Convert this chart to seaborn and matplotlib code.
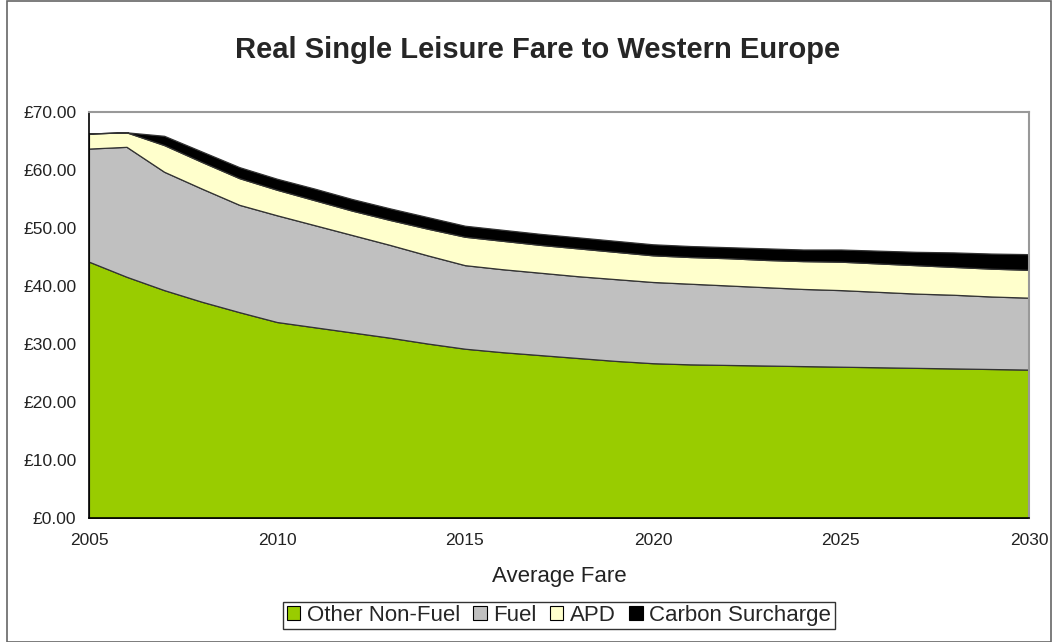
import matplotlib
matplotlib.use("Agg")
import matplotlib.pyplot as plt
from matplotlib.patches import Rectangle, Patch
from matplotlib.ticker import FuncFormatter, MultipleLocator
import seaborn as sns

# data (GBP, real terms)
years = list(range(2005, 2031))
other_non_fuel = [44.2, 41.6, 39.3, 37.3, 35.5, 33.8, 32.9, 32.0, 31.1, 30.1, 29.2,
                  28.6, 28.1, 27.6, 27.1, 26.7, 26.5, 26.4, 26.3, 26.2, 26.1,
                  26.0, 25.9, 25.8, 25.7, 25.6]
fuel = [19.5, 22.4, 20.4, 19.5, 18.5, 18.4, 17.6, 16.8, 16.0, 15.2, 14.4,
        14.3, 14.2, 14.1, 14.1, 14.0, 13.9, 13.7, 13.5, 13.3, 13.2,
        13.0, 12.8, 12.7, 12.5, 12.4]
apd = [2.6, 2.5, 4.6, 4.6, 4.6, 4.4, 4.3, 4.2, 4.3, 4.6, 4.9,
       4.9, 4.8, 4.8, 4.7, 4.6, 4.6, 4.7, 4.7, 4.8, 4.9,
       4.9, 4.9, 4.8, 4.8, 4.8]
carbon = [0.0, 0.0, 1.6, 1.8, 1.9, 1.9, 2.0, 2.0, 2.0, 2.0, 1.9,
          1.9, 1.9, 1.9, 1.9, 1.9, 1.9, 1.9, 2.0, 2.0, 2.1,
          2.2, 2.3, 2.5, 2.6, 2.7]
series_names = ["Other Non-Fuel", "Fuel", "APD", "Carbon Surcharge"]
colors = ["#99cc00", "#c0c0c0", "#ffffcc", "#000000"]

sns.set_style("white")
plt.rcParams["font.family"] = ["Liberation Sans", "DejaVu Sans"]

fig = plt.figure(figsize=(10.54, 6.42), dpi=100)
ax = fig.add_axes([0.0844, 0.193, 0.8918, 0.6325])

ax.stackplot(years, other_non_fuel, fuel, apd, carbon, colors=colors,
             edgecolor="#333333", linewidth=0.9)

ax.set_xlim(2005, 2030)
ax.set_ylim(0, 70)
ax.yaxis.set_major_locator(MultipleLocator(10))
ax.yaxis.set_major_formatter(FuncFormatter(lambda v, p: f"£{v:.2f}"))
ax.xaxis.set_major_locator(MultipleLocator(5))
ax.xaxis.set_minor_locator(MultipleLocator(1))
ax.tick_params(axis="both", which="both", direction="out", length=5, width=1,
               color="black", labelsize=12.5, labelcolor="#222222", pad=4)
ax.tick_params(axis="x", which="major", pad=6)

for side in ["left", "bottom"]:
    ax.spines[side].set_color("black")
    ax.spines[side].set_linewidth(1.2)
for side in ["top", "right"]:
    ax.spines[side].set_color("#999999")
    ax.spines[side].set_linewidth(1.5)

# axis title and chart title
ax.text(0.5, -0.145, "Average Fare", transform=ax.transAxes, ha="center",
        va="center", fontsize=16, color="#222222")
fig.text(0.51, 1 - 50 / 642, "Real Single Leisure Fare to Western Europe",
         ha="center", va="center", fontsize=21, fontweight="bold")

handles = [Patch(facecolor=c, edgecolor="black", linewidth=0.8) for c in colors]
leg = fig.legend(handles, series_names, loc="center",
                 bbox_to_anchor=(559 / 1054, 0.0413),
                 ncol=4, frameon=True, fancybox=False, fontsize=16,
                 handlelength=0.6, handleheight=0.6, handletextpad=0.3,
                 columnspacing=0.6, borderpad=0.15, borderaxespad=0)
leg.get_frame().set_edgecolor("black")
leg.get_frame().set_linewidth(1.0)

# chart area border
fig.patches.append(Rectangle((0.007, 0.0), 0.99, 0.998, transform=fig.transFigure,
                             fill=False, edgecolor="#666666", linewidth=1.2))

fig.savefig("out.png", dpi=100)
